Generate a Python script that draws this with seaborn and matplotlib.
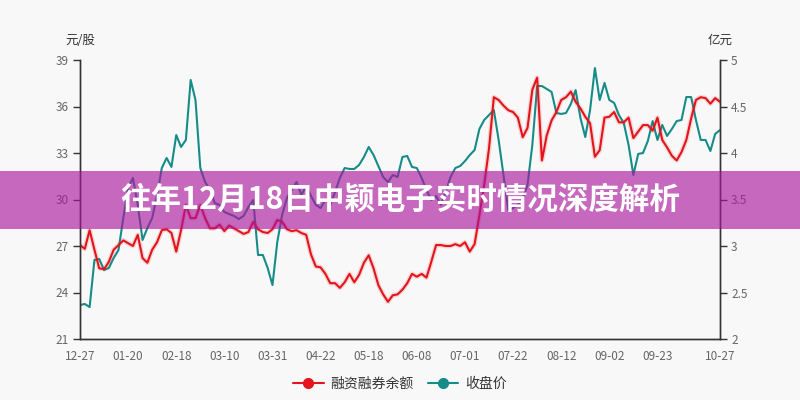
import numpy as np
import pandas as pd
import matplotlib
matplotlib.use("Agg")
import matplotlib.pyplot as plt
import matplotlib.patheffects as pe
import seaborn as sns
from matplotlib.patches import Rectangle
from matplotlib.lines import Line2D

# tick labels and the point index each one sits on
tick_labels = ["12-27", "01-20", "02-18", "03-10", "03-31", "04-22", "05-18",
               "06-08", "07-01", "07-22", "08-12", "09-02", "09-23", "10-27"]
tick_index = [0, 10, 20, 30, 40, 50, 60, 70, 80, 90, 100, 110, 120, 133]

# 收盘价 (元/股, left axis)
close_price = [
    23.19, 23.26, 23.06, 26.10, 26.16, 25.45, 25.58, 26.23, 26.74, 28.81,
    30.74, 31.39, 29.65, 27.39, 28.16, 28.81, 30.23, 32.03, 32.68, 32.10,
    34.16, 33.39, 33.84, 37.71, 36.42, 32.03, 31.13, 30.61, 29.77, 29.65,
    29.19, 29.06, 28.94, 28.74, 28.94, 29.52, 29.97, 26.42, 26.42, 25.58,
    24.48, 27.26, 29.00, 30.10, 30.61, 31.13, 30.29, 30.87, 30.23, 29.65,
    29.45, 29.97, 29.65, 30.48, 31.39, 32.03, 31.97, 31.97, 32.23, 32.74,
    33.39, 32.87, 32.16, 31.45, 31.13, 31.58, 31.45, 32.74, 32.81, 32.10,
    32.03, 31.39, 30.61, 29.97, 30.23, 29.65, 30.48, 31.45, 32.03, 32.16,
    32.48, 32.87, 33.19, 34.55, 35.13, 35.45, 35.77, 33.84, 31.58, 29.32,
    29.45, 29.65, 30.10, 30.94, 33.52, 37.32, 37.32, 37.13, 36.94, 35.58,
    35.52, 35.58, 36.16, 37.06, 35.26, 34.03, 35.77, 38.48, 36.42, 37.52,
    36.42, 36.23, 35.45, 34.94, 33.52, 31.58, 32.94, 33.00, 33.77, 35.06,
    33.84, 34.81, 34.10, 34.55, 35.06, 35.13, 36.61, 36.61, 35.13, 33.84,
    33.84, 33.13, 34.23, 34.48,
]

# 融资融券余额 (亿元, right axis)
margin_balance = [
    3.01, 2.97, 3.17, 2.96, 2.76, 2.75, 2.83, 2.96, 3.01, 3.06,
    3.03, 3.00, 3.12, 2.87, 2.82, 2.96, 3.04, 3.17, 3.18, 3.14,
    2.94, 3.17, 3.44, 3.30, 3.30, 3.44, 3.30, 3.19, 3.19, 3.23,
    3.16, 3.22, 3.19, 3.16, 3.13, 3.15, 3.26, 3.18, 3.15, 3.14,
    3.18, 3.28, 3.26, 3.18, 3.16, 3.17, 3.14, 3.12, 2.91, 2.78,
    2.77, 2.70, 2.60, 2.60, 2.55, 2.61, 2.70, 2.61, 2.69, 2.82,
    2.90, 2.76, 2.58, 2.48, 2.40, 2.47, 2.48, 2.53, 2.60, 2.70,
    2.67, 2.70, 2.66, 2.83, 3.01, 3.01, 3.00, 3.00, 3.02, 3.00,
    3.04, 2.94, 3.02, 3.33, 3.66, 4.05, 4.60, 4.57, 4.51, 4.46,
    4.44, 4.38, 4.17, 4.27, 4.68, 4.81, 3.92, 4.19, 4.35, 4.44,
    4.57, 4.60, 4.66, 4.55, 4.48, 4.39, 4.32, 3.96, 4.03, 4.38,
    4.39, 4.44, 4.33, 4.33, 4.38, 4.16, 4.23, 4.30, 4.30, 4.24,
    4.38, 4.14, 4.06, 3.97, 3.92, 4.01, 4.14, 4.37, 4.57, 4.60,
    4.59, 4.53, 4.59, 4.55,
]

title = "往年12月18日中颖电子实时情况深度解析"

RED = "#e3141b"
TEAL = "#168c88"
BG = "#f8f8f9"

sns.set_theme(style="white")
plt.rcParams["font.family"] = ["Noto Sans CJK SC", "DejaVu Sans"]

df = pd.DataFrame({"idx": np.arange(len(close_price)),
                   "close": close_price,
                   "margin": margin_balance})

fig = plt.figure(figsize=(8, 4), dpi=100, facecolor=BG)
ax = fig.add_axes([0.1, 0.1525, 0.8, 0.6975], facecolor=BG)
ax2 = ax.twinx()

sns.lineplot(data=df, x="idx", y="close", ax=ax, color=TEAL, linewidth=1.5)
sns.lineplot(data=df, x="idx", y="margin", ax=ax2, color=RED, linewidth=1.5)
# soft glow under the red line
ax2.lines[0].set_path_effects([
    pe.Stroke(linewidth=3.5, foreground=RED, alpha=0.15), pe.Normal()])

ax.set_xlim(0, len(close_price) - 1)
ax.set_ylim(21, 39)
ax.set_yticks(np.arange(21, 40, 3))
ax2.set_ylim(2, 5)
ax2.set_yticks(np.arange(2, 5.01, 0.5))
ax2.set_yticklabels(["2", "2.5", "3", "3.5", "4", "4.5", "5"])
ax.set_xticks(tick_index)
ax.set_xticklabels(tick_labels)
ax.set_xlabel("")
ax.set_ylabel("")
ax2.set_ylabel("")

for a in (ax, ax2):
    a.spines["top"].set_visible(False)
    for s in ("left", "right", "bottom"):
        a.spines[s].set_color("#333333")
        a.spines[s].set_linewidth(1.0)
    a.tick_params(axis="both", direction="out", length=5, width=1,
                  color="#333333", labelcolor="#666666", labelsize=8.5, pad=3)
    a.grid(False)

fig.text(0.1, 0.9, "元/股", ha="center", va="center", fontsize=9, color="#333333")
fig.text(0.9, 0.9, "亿元", ha="center", va="center", fontsize=9, color="#333333")

# translucent banner with the headline
fig.add_artist(Rectangle((0, 1 - 229 / 400), 1, 58 / 400, transform=fig.transFigure,
                         facecolor=(171 / 255, 20 / 255, 158 / 255), alpha=0.63,
                         edgecolor="none", zorder=5))
fig.text(0.5, 0.5, title, ha="center", va="center", fontsize=22, color="white",
         fontweight="bold", zorder=6)

handles = [
    Line2D([], [], color=RED, lw=1.5, marker="o", markersize=7, label="融资融券余额"),
    Line2D([], [], color=TEAL, lw=1.5, marker="o", markersize=7, label="收盘价"),
]
fig.legend(handles=handles, loc="center", bbox_to_anchor=(0.5, 0.04), ncol=2,
           frameon=False, fontsize=10, handlelength=2.2, columnspacing=1.0,
           handletextpad=0.5, labelcolor="#333333")

fig.savefig("out.png", dpi=100, facecolor=BG)
